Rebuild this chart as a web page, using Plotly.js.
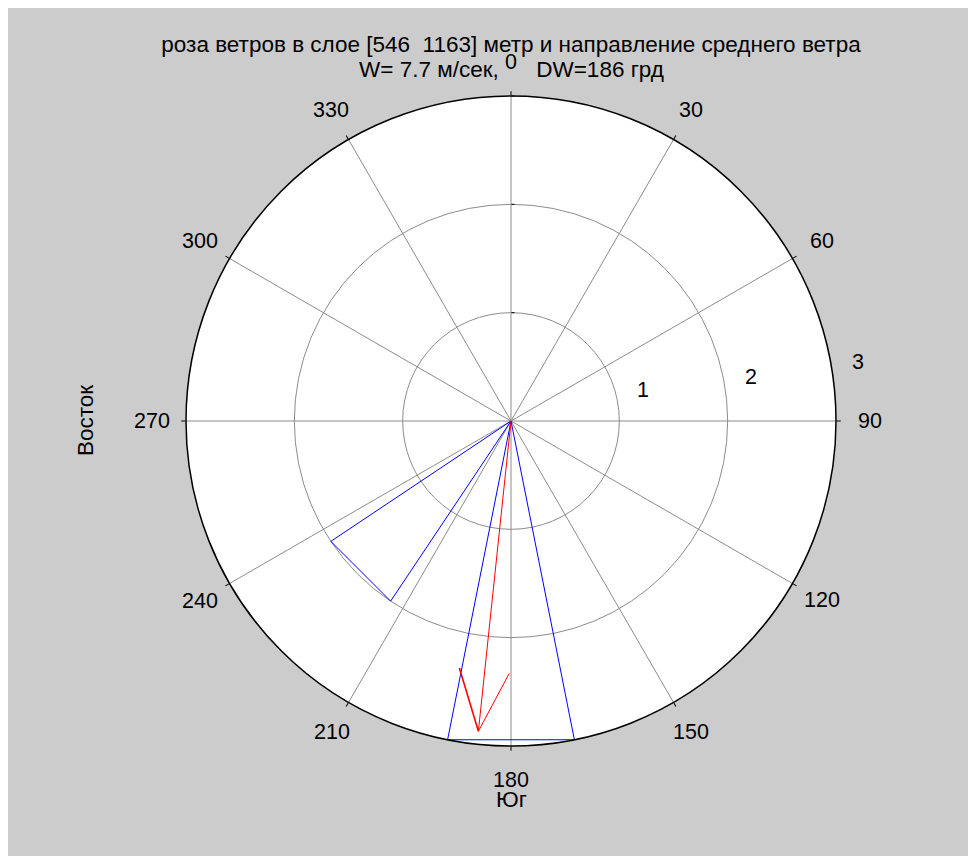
<!DOCTYPE html>
<html>
<head>
<meta charset="utf-8">
<script src="https://cdn.plot.ly/plotly-3.0.1.min.js"></script>
<style>
html,body{margin:0;padding:0;background:#ffffff;overflow:hidden;}
#chart{position:absolute;left:8px;top:8px;width:960px;height:848px;}
</style>
</head>
<body>
<div id="chart"></div>
<script>
// Wind rose: 16 direction sectors (degrees) and their values
var roseDirections = [0, 22.5, 45, 67.5, 90, 112.5, 135, 157.5, 180, 202.5, 225, 247.5, 270, 292.5, 315, 337.5];
var roseValues     = [0, 0, 0, 0, 0, 0, 0, 0, 3.0, 0, 2.0, 0, 0, 0, 0, 0];
var sectorWidth = 22.5;

// Mean wind arrow (polyline pieces: shaft, left head, right head)
var arrowShaftR = [0, 2.88];
var arrowShaftTheta = [186, 186];
var arrowLeftR = [2.33, 2.88];
var arrowLeftTheta = [191.8, 186];
var arrowRightR = [2.88, 2.33];
var arrowRightTheta = [186, 180.4];

// Radial tick labels and their positions
var radialLabels = ['1', '2', '3'];
var radialLabelR = [1.254, 2.25, 3.25];
var radialLabelTheta = [76.8, 79.5, 80.3];

// Angular ticks
var angularTicks = [0, 30, 60, 90, 120, 150, 180, 210, 240, 270, 300, 330];
var angularTickText = ['0', '30', '60', '90', '120', '150', '180', '210', '240', '270', '300', '330'];

var NB = '\u00a0';
var titleLine1 = 'роза ветров в слое [546' + NB + NB + '1163] метр и направление среднего ветра';
var titleLine2 = 'W= 7.7 м/сек,' + NB + NB + NB + NB + NB + NB + 'DW=186 грд';
var yLabel = 'Восток';
var xLabel = 'Юг';

// Build rose polygon
var roseR = [], roseTheta = [];
for (var i = 0; i < roseDirections.length; i++) {
  if (roseValues[i] <= 0) continue;
  var c = roseDirections[i];
  roseR.push(0, roseValues[i], roseValues[i], 0, null);
  roseTheta.push(c, c - sectorWidth / 2, c + sectorWidth / 2, c, null);
}

var FONT = 'Arial, "Liberation Sans", sans-serif';
var RMAX = 3;
var PLOT_PX = 650;          // polar diameter in px
var LABEL_RADIUS_PX = 359;  // angular tick label distance from centre

var traces = [
  {type: 'scatterpolar', mode: 'lines', r: roseR, theta: roseTheta,
   line: {color: '#0000ff', width: 1}, connectgaps: false, hoverinfo: 'skip'},
  {type: 'scatterpolar', mode: 'lines', r: arrowShaftR, theta: arrowShaftTheta,
   line: {color: '#ff0000', width: 1}, hoverinfo: 'skip'},
  {type: 'scatterpolar', mode: 'lines', r: arrowLeftR, theta: arrowLeftTheta,
   line: {color: '#ff0000', width: 1.6}, hoverinfo: 'skip'},
  {type: 'scatterpolar', mode: 'lines', r: arrowRightR, theta: arrowRightTheta,
   line: {color: '#ff0000', width: 1}, hoverinfo: 'skip'}
];

var annotations = [];
function rad(d) { return d * Math.PI / 180; }
// angular tick labels, centred at a fixed distance outside the circle
angularTicks.forEach(function (t, k) {
  annotations.push({
    text: angularTickText[k], xref: 'paper', yref: 'paper',
    x: 0.5 + LABEL_RADIUS_PX * Math.sin(rad(t)) / PLOT_PX,
    y: 0.5 + LABEL_RADIUS_PX * Math.cos(rad(t)) / PLOT_PX,
    showarrow: false, xanchor: 'center', yanchor: 'middle',
    font: {family: FONT, size: 21.5, color: '#000'}
  });
});
// radial tick labels
radialLabels.forEach(function (s, k) {
  var f = radialLabelR[k] / RMAX * 0.5;
  annotations.push({
    text: s, xref: 'paper', yref: 'paper',
    x: 0.5 + f * Math.sin(rad(radialLabelTheta[k])),
    y: 0.5 + f * Math.cos(rad(radialLabelTheta[k])),
    showarrow: false, xanchor: 'center', yanchor: 'middle',
    font: {family: FONT, size: 21.5, color: '#000'}
  });
});
annotations.push(
  {text: titleLine2, xref: 'paper', yref: 'paper', x: (503 - 178) / PLOT_PX, y: (738 - 62) / PLOT_PX,
   showarrow: false, xanchor: 'center', yanchor: 'middle',
   font: {family: FONT, size: 22.5, color: '#000'}},
  {text: yLabel, xref: 'paper', yref: 'paper', x: (77 - 178) / PLOT_PX, y: 0.5,
   showarrow: false, textangle: -90, xanchor: 'center', yanchor: 'middle',
   font: {family: FONT, size: 22.5, color: '#000'}},
  {text: xLabel, xref: 'paper', yref: 'paper', x: 0.5, y: (738 - 791) / PLOT_PX,
   showarrow: false, xanchor: 'center', yanchor: 'middle',
   font: {family: FONT, size: 22.5, color: '#000'}}
);

var layout = {
  width: 960, height: 848,
  paper_bgcolor: '#cccccc',
  showlegend: false,
  margin: {l: 178, r: 132, t: 88, b: 110, pad: 0},
  font: {family: FONT, color: '#000'},
  title: {text: titleLine1, font: {family: FONT, size: 22.5, color: '#000'},
          x: 0.5, xref: 'paper', xanchor: 'center',
          y: 1 - 36 / 848, yref: 'container', yanchor: 'middle'},
  polar: {
    domain: {x: [0, 1], y: [0, 1]},
    bgcolor: '#ffffff',
    radialaxis: {
      range: [0, RMAX], tickvals: [1, 2, 3], showticklabels: false,
      angle: 90, showline: false, ticks: 'outside', ticklen: 3, tickcolor: '#000',
      gridcolor: '#8c8c8c', gridwidth: 1
    },
    angularaxis: {
      direction: 'clockwise', rotation: 90,
      tickmode: 'array', tickvals: angularTicks, showticklabels: false,
      ticks: 'outside', ticklen: 4, tickcolor: '#000',
      showline: true, linecolor: '#000', linewidth: 1.5,
      gridcolor: '#8c8c8c', gridwidth: 1
    }
  },
  annotations: annotations
};

Plotly.newPlot('chart', traces, layout, {displayModeBar: false, staticPlot: true});
</script>
</body>
</html>
